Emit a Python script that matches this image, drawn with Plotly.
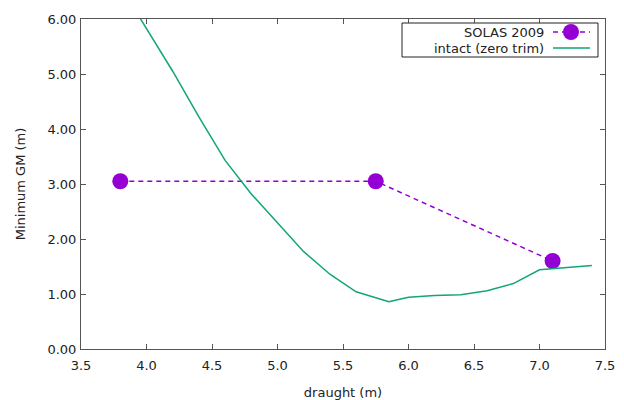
import plotly.graph_objects as go

# Minimum GM requirement (SOLAS 2009) at three draughts
solas_draught = [3.8, 5.75, 7.1]
solas_gm = [3.05, 3.05, 1.6]

# Intact stability limit curve, zero trim
intact_draught = [3.8, 4.0, 4.2, 4.4, 4.6, 4.8, 5.0, 5.2, 5.4, 5.6, 5.85, 6.0,
                  6.2, 6.4, 6.6, 6.8, 7.0, 7.4]
intact_gm = [6.6, 5.83, 5.05, 4.22, 3.43, 2.82, 2.29, 1.77, 1.36, 1.04, 0.86,
             0.94, 0.975, 0.985, 1.06, 1.19, 1.44, 1.52]

x_ticks = [3.5, 4.0, 4.5, 5.0, 5.5, 6.0, 6.5, 7.0, 7.5]
y_ticks = [0, 1, 2, 3, 4, 5, 6]

PURPLE = "#9400D3"
GREEN = "#11A579"
AXIS = "#555555"
FONT = "DejaVu Sans"

W, H = 624, 400
ML, MR, MT, MB = 81, 19, 19, 51
PW, PH = W - ML - MR, H - MT - MB


def px(x):
    return (x - ML) / PW


def py(y):
    return (H - MB - y) / PH


fig = go.Figure()
fig.add_trace(go.Scatter(
    x=solas_draught, y=solas_gm, mode="lines+markers", name="SOLAS 2009",
    line=dict(color=PURPLE, width=1.5, dash="5px,4px"),
    marker=dict(color=PURPLE, size=16, line=dict(width=0)),
    showlegend=False, cliponaxis=True,
))
fig.add_trace(go.Scatter(
    x=intact_draught, y=intact_gm, mode="lines", name="intact (zero trim)",
    line=dict(color=GREEN, width=1.5),
    showlegend=False,
))

axis_common = dict(
    showline=True, linecolor=AXIS, linewidth=1, mirror="ticks",
    ticks="inside", ticklen=5, tickcolor=AXIS, tickwidth=1,
    showgrid=False, zeroline=False, automargin=False,
    tickfont=dict(family=FONT, size=13, color="#222"),
)

fig.update_layout(
    width=W, height=H,
    margin=dict(l=ML, r=MR, t=MT, b=MB, pad=0, autoexpand=False),
    paper_bgcolor="white", plot_bgcolor="white",
    xaxis=dict(range=[3.5, 7.5], tickvals=x_ticks,
               ticktext=[f"{v:.1f}" for v in x_ticks],
               ticklabelstandoff=4,
               title=dict(text="draught (m)", standoff=16,
                          font=dict(family=FONT, size=13, color="#222")),
               **axis_common),
    yaxis=dict(range=[0, 6], tickvals=y_ticks,
               ticktext=[f"{v:.2f}" for v in y_ticks],
               ticklabelstandoff=1,
               title=dict(text="Minimum GM (m)", standoff=18,
                          font=dict(family=FONT, size=13, color="#222")),
               **axis_common),
)

# Legend box: text on the left, sample on the right
box_l, box_r, box_t, box_b = 402, 598, 23, 57
fig.add_shape(type="rect", xref="paper", yref="paper",
              x0=px(box_l), x1=px(box_r), y0=py(box_b), y1=py(box_t),
              line=dict(color="#222", width=1), fillcolor="white")
rows = [("SOLAS 2009", 32), ("intact (zero trim)", 48)]
for label, ry in rows:
    fig.add_annotation(xref="paper", yref="paper", x=px(546), y=py(ry),
                       text=label, showarrow=False, xanchor="right",
                       yanchor="middle",
                       font=dict(family=FONT, size=13, color="#222"))
fig.add_shape(type="line", xref="paper", yref="paper",
              x0=px(553), x1=px(590), y0=py(32), y1=py(32),
              line=dict(color=PURPLE, width=1.5, dash="5px,4px"))
fig.add_shape(type="circle", xref="paper", yref="paper",
              x0=px(563), x1=px(579), y0=py(40), y1=py(24),
              line=dict(width=0), fillcolor=PURPLE)
fig.add_shape(type="line", xref="paper", yref="paper",
              x0=px(553), x1=px(590), y0=py(48), y1=py(48),
              line=dict(color=GREEN, width=1.5))

fig.write_html("out.html")
